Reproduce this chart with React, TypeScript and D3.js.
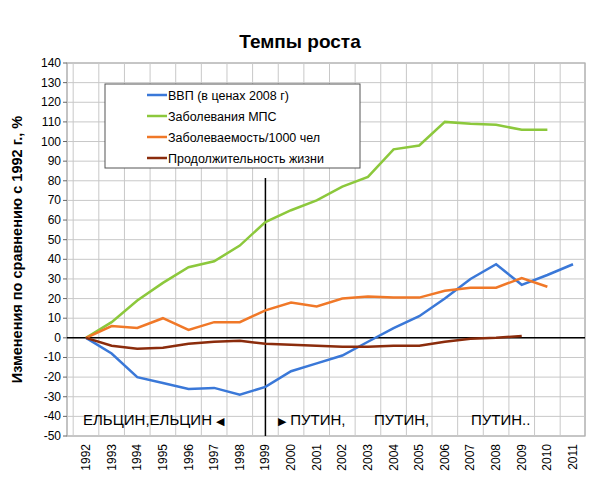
import * as d3 from "d3";

const years = d3.range(1992, 2012);
const yTicks = d3.range(-50, 141, 10);
const gdp = [0, -8, -20, -23, -26, -25.5, -29, -25, -17, -13, -9, -2, 5, 11, 20, 30, 37.5, 27, 32, 37.5];
const mps = [0, 8, 19, 28, 36, 39, 47, 59, 65, 70, 77, 82, 96, 98, 110, 109, 108.5, 106, 106];
const morb = [0, 6, 5, 10, 4, 8, 8, 14, 18, 16, 20, 21, 20.5, 20.5, 24, 25.5, 25.5, 30.5, 26];
const life = [0, -4, -5.5, -5, -3, -2, -1.5, -3, -3.5, -4, -4.5, -4.5, -4, -4, -2, -0.5, 0, 1];
const series = [
  { name: "ВВП (в ценах 2008 г)", color: "#3a78d8", values: gdp },
  { name: "Заболевания МПС", color: "#8cc83c", values: mps },
  { name: "Заболеваемость/1000 чел", color: "#f07828", values: morb },
  { name: "Продолжительность жизни", color: "#8b2c0c", values: life },
];

const L = 67, R = 585, T = 63, B = 436;
const x = d3.scaleLinear().domain([1992, 2011]).range([86, 573]);
const y = d3.scaleLinear().domain([-50, 140]).range([B, T]);
const step = x(1993) - x(1992);
const font = "Arial, 'Liberation Sans', sans-serif";

export default function App() {
  const line = d3.line<number>().x((_, i) => x(1992 + i)).y((d) => y(d));
  return (
    <svg width={605} height={480} style={{ position: "absolute", left: 0, top: 0, background: "#fff" }} fontFamily={font}>
      <text x={300} y={48} textAnchor="middle" fontSize={19} fontWeight="bold">Темпы роста</text>
      <rect x={L} y={T} width={R - L} height={B - T} fill="#fff" stroke="#888" />
      {yTicks.map((t) => (
        <g key={t}>
          <line x1={L} x2={R} y1={y(t)} y2={y(t)} stroke="#c8c8c8" />
          <line x1={L - 4} x2={L} y1={y(t)} y2={y(t)} stroke="#666" />
          <text x={L - 6} y={y(t) + 4} textAnchor="end" fontSize={12}>{t}</text>
        </g>
      ))}
      {years.map((yr) => (
        <g key={yr}>
          <line x1={x(yr) - step / 2} x2={x(yr) - step / 2} y1={T} y2={B} stroke="#c8c8c8" />
          <text transform={`translate(${x(yr) + 4},${B + 8}) rotate(-90)`} textAnchor="end" fontSize={12}>{yr}</text>
        </g>
      ))}
      <line x1={L} x2={R} y1={y(0)} y2={y(0)} stroke="#000" strokeWidth={1.5} />
      <line x1={x(1999)} x2={x(1999)} y1={178} y2={B} stroke="#000" strokeWidth={1.5} />
      {series.map((s) => (
        <path key={s.name} d={line(s.values) ?? ""} fill="none" stroke={s.color} strokeWidth={2.5} />
      ))}
      <rect x={105} y={84} width={255} height={84} fill="#fff" stroke="#555" />
      {series.map((s, i) => (
        <g key={s.name}>
          <line x1={147} x2={167} y1={95 + i * 21} y2={95 + i * 21} stroke={s.color} strokeWidth={2.5} />
          <text x={168} y={99.5 + i * 21} fontSize={12.5}>{s.name}</text>
        </g>
      ))}
      <text x={83} y={425} fontSize={15}>ЕЛЬЦИН,ЕЛЬЦИН <tspan fontSize={11}>◀</tspan></text>
      <text x={278} y={425} fontSize={15}><tspan fontSize={11}>▶</tspan> ПУТИН,</text>
      <text x={374} y={425} fontSize={15}>ПУТИН,</text>
      <text x={471} y={425} fontSize={15}>ПУТИН..</text>
      <text transform={`translate(22,${(T + B) / 2}) rotate(-90)`} textAnchor="middle" fontSize={14.5} fontWeight="bold">
        Изменения по сравнению с 1992 г., %
      </text>
    </svg>
  );
}
